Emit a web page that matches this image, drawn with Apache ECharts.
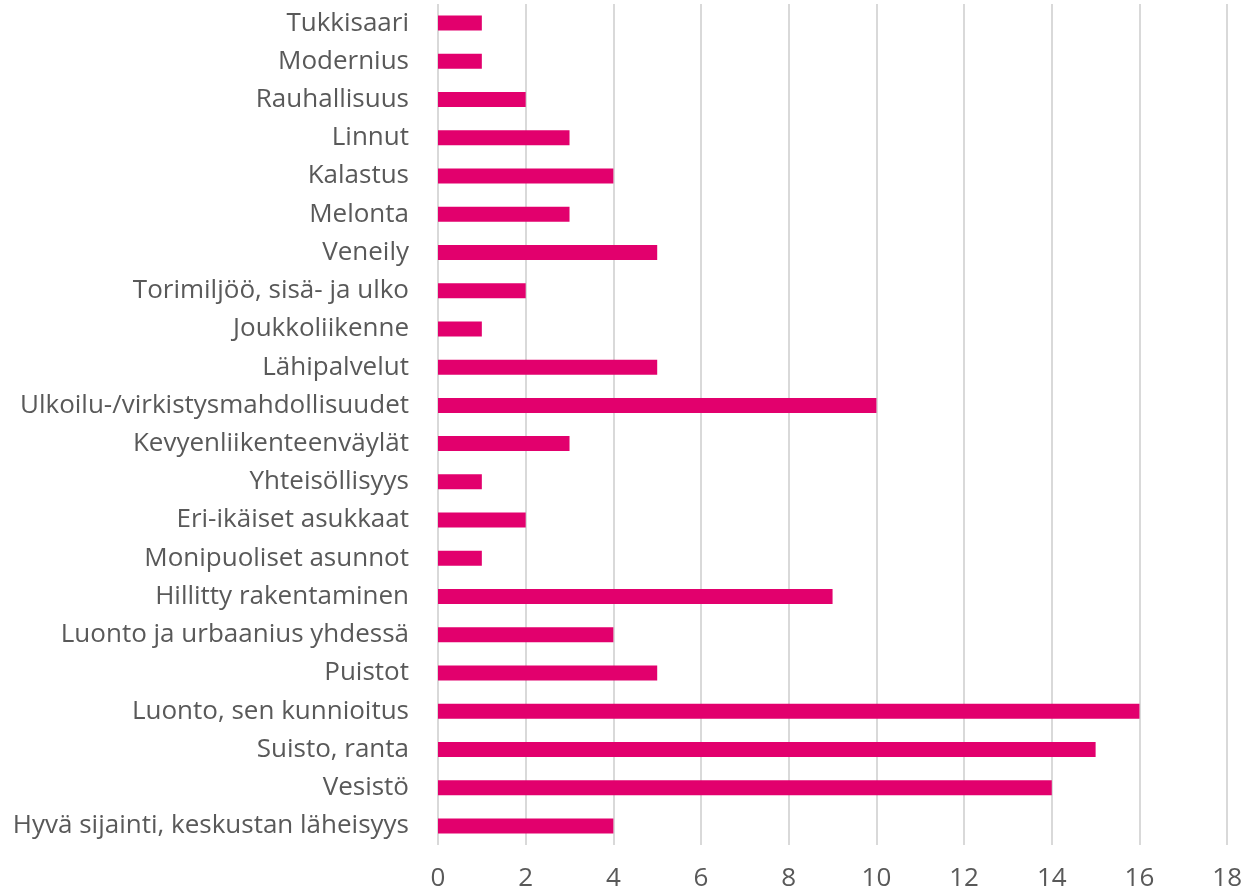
<!DOCTYPE html>
<html>
<head>
<meta charset="utf-8">
<script src="https://cdn.jsdelivr.net/npm/echarts@6/dist/echarts.min.js"></script>
<style>
  html, body { margin: 0; padding: 0; background: #fff; }
  #chart { width: 1245px; height: 893px; }
</style>
</head>
<body>
<div id="chart"></div>
<script>
// categories, top to bottom as shown
const categories = [
  'Tukkisaari', 'Modernius', 'Rauhallisuus', 'Linnut', 'Kalastus', 'Melonta',
  'Veneily', 'Torimiljöö, sisä- ja ulko', 'Joukkoliikenne', 'Lähipalvelut',
  'Ulkoilu-/virkistysmahdollisuudet', 'Kevyenliikenteenväylät', 'Yhteisöllisyys',
  'Eri-ikäiset asukkaat', 'Monipuoliset asunnot', 'Hillitty rakentaminen',
  'Luonto ja urbaanius yhdessä', 'Puistot', 'Luonto, sen kunnioitus',
  'Suisto, ranta', 'Vesistö', 'Hyvä sijainti, keskustan läheisyys'
]
const values = [1, 1, 2, 3, 4, 3, 5, 2, 1, 5, 10, 3, 1, 2, 1, 9, 4, 5, 16, 15, 14, 4]

const xMin = 0
const xMax = 18
const xStep = 2

const chart = echarts.init(document.getElementById('chart'))

chart.setOption({
  animation: false,
  grid: { left: 438, right: 17, top: 4, bottom: 48, containLabel: false },
  xAxis: {
    type: 'value',
    min: xMin,
    max: xMax,
    interval: xStep,
    axisLine: { show: false },
    axisTick: { show: false },
    axisLabel: {
      color: '#595959',
      fontSize: 26,
      fontFamily: 'Open Sans',
      margin: 21
    },
    splitLine: { lineStyle: { color: '#d9d9d9', width: 2 } }
  },
  yAxis: {
    type: 'category',
    data: categories,
    inverse: true,
    axisLine: { show: false },
    axisTick: { show: false },
    axisLabel: {
      color: '#595959',
      fontSize: 26,
      fontFamily: 'Open Sans',
      margin: 29
    }
  },
  series: [{
    type: 'bar',
    data: values,
    barWidth: 15,
    itemStyle: { color: '#e2006d' }
  }]
})
</script>
</body>
</html>
